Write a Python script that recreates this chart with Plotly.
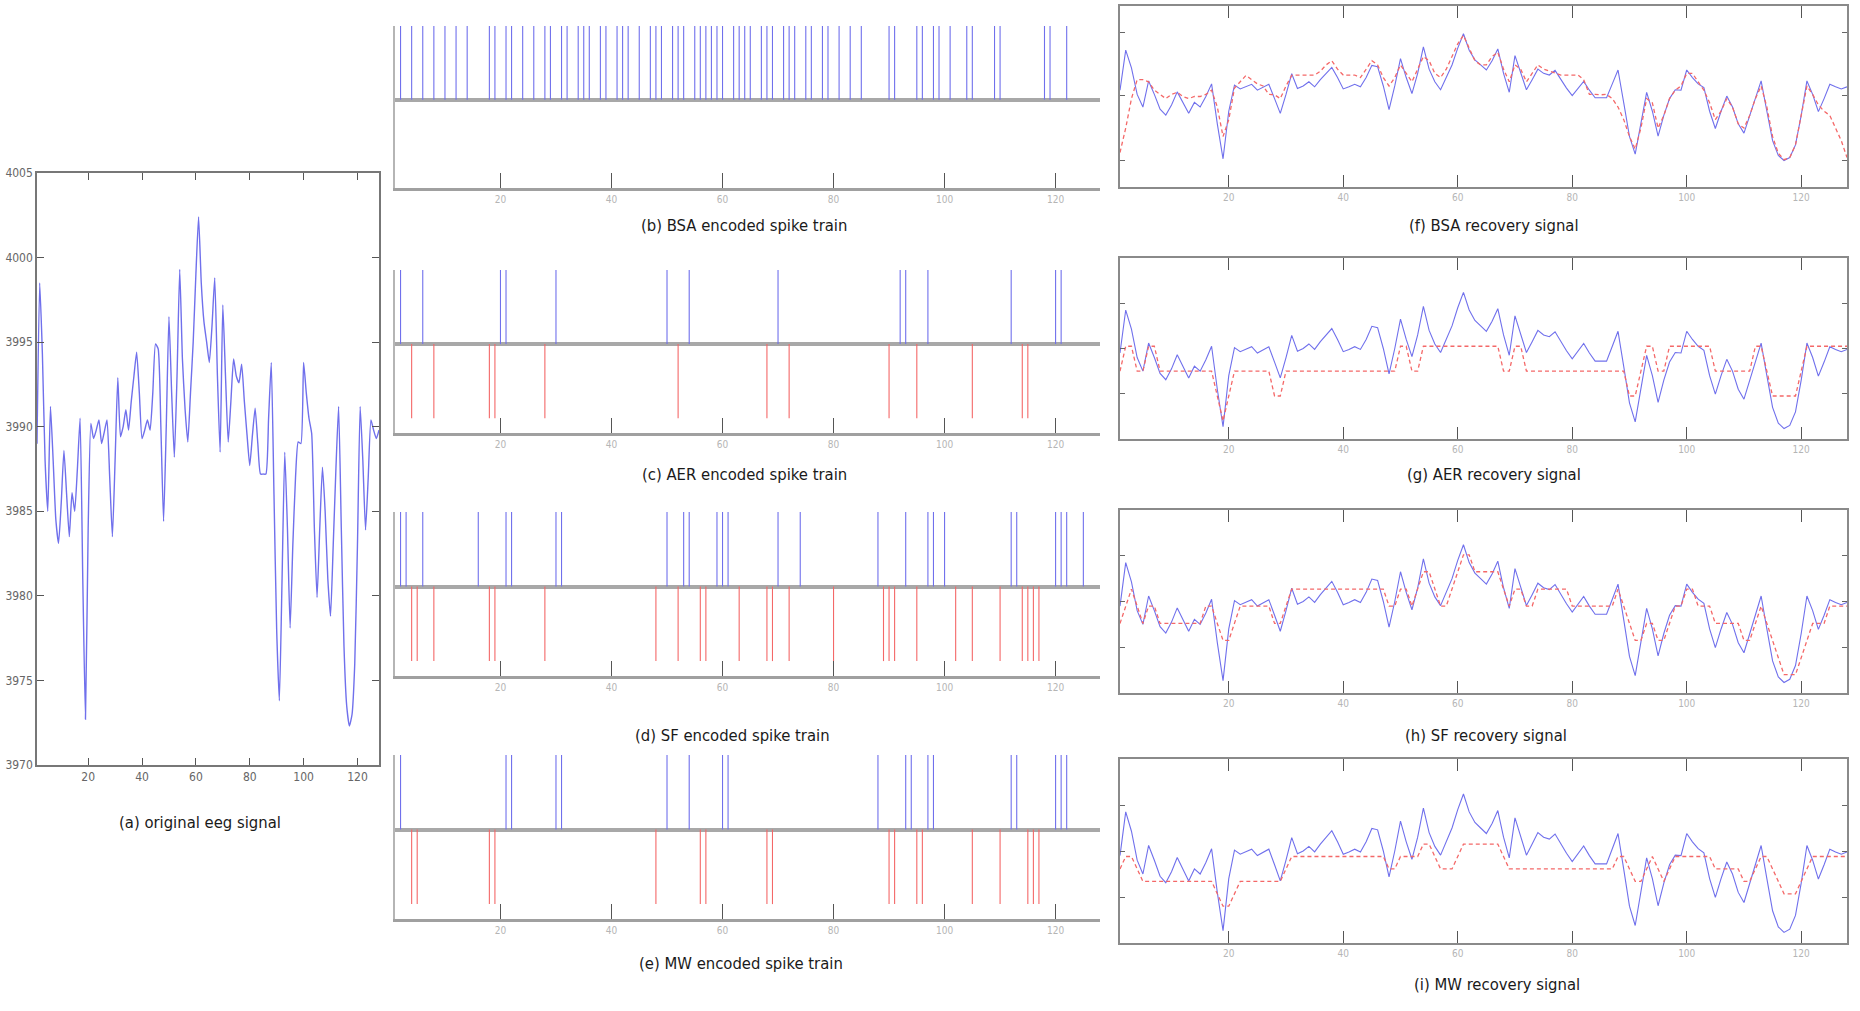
import plotly.graph_objects as go

W, H = 1860, 1011

# ---------------- data ----------------
samples = list(range(1, 129))

eeg = [
    3989.0, 3998.5, 3994.3, 3988.0, 3985.0, 3991.2, 3988.0, 3984.5, 3983.1, 3985.5,
    3988.6, 3986.0, 3983.5, 3986.1, 3985.0, 3987.5, 3990.5, 3981.0, 3972.7, 3984.0,
    3990.2, 3989.3, 3989.8, 3990.4, 3989.0, 3989.7, 3990.4, 3987.0, 3983.5, 3988.0,
    3992.9, 3989.4, 3990.0, 3991.0, 3989.8, 3991.5, 3993.0, 3994.4, 3992.0, 3989.3,
    3989.8, 3990.4, 3989.8, 3992.0, 3994.9, 3994.6, 3990.0, 3984.4, 3990.0, 3996.5,
    3992.0, 3988.2, 3993.0, 3999.3, 3994.0, 3991.0, 3989.1, 3992.0, 3995.0, 3999.0,
    4002.4, 3998.5, 3996.2, 3995.0, 3993.8, 3996.0, 3998.8, 3993.0, 3988.5, 3997.2,
    3993.0, 3989.1, 3991.5, 3994.0, 3993.0, 3992.6, 3993.7, 3991.5, 3989.5, 3987.7,
    3989.5, 3991.1, 3989.0, 3987.2, 3987.2, 3987.2, 3990.5, 3993.8, 3986.0, 3978.0,
    3973.8, 3981.0, 3988.5, 3984.0, 3978.1, 3983.0, 3987.0, 3989.1, 3989.0, 3993.8,
    3992.0, 3990.5, 3989.6, 3984.0, 3979.9, 3984.0, 3987.6, 3985.0, 3981.0, 3978.8,
    3983.0, 3987.5, 3991.2, 3984.0, 3977.0, 3973.5, 3972.3, 3973.0, 3976.0, 3983.0,
    3991.2, 3988.0, 3983.9, 3987.0, 3990.4, 3989.8, 3989.3, 3989.8,
]

bsa_spikes = [2, 4, 6, 8, 10, 12, 14, 18, 19, 21, 22, 24, 26, 28, 29, 31, 32, 34, 35, 36,
              38, 39, 41, 42, 43, 45, 47, 48, 49, 51, 52, 53, 55, 56, 57, 58, 59, 60, 62, 63,
              64, 65, 67, 68, 69, 71, 72, 73, 75, 76, 78, 79, 81, 83, 85, 90, 91, 95, 96, 98,
              99, 101, 104, 105, 109, 110, 118, 119, 122]

aer_pos = [2, 6, 20, 21, 30, 50, 54, 70, 92, 93, 97, 112, 120, 121]
aer_neg = [4, 8, 18, 19, 28, 52, 68, 72, 90, 95, 105, 114, 115]

sf_pos = [2, 3, 6, 16, 21, 22, 30, 31, 50, 53, 54, 59, 60, 61, 70, 74, 88, 93, 97, 98,
          100, 112, 113, 120, 121, 122, 125]
sf_neg = [4, 5, 8, 18, 19, 28, 48, 52, 56, 57, 63, 68, 69, 72, 80, 89, 90, 91, 95, 102,
          105, 110, 114, 115, 116, 117]

mw_pos = [2, 21, 22, 30, 31, 50, 54, 60, 61, 88, 93, 94, 97, 98, 112, 113, 120, 121, 122]
mw_neg = [4, 5, 18, 19, 48, 56, 57, 68, 69, 90, 91, 95, 96, 105, 110, 115, 116, 117]

bsa_rec = [
    3974.2, 3980.0, 3987.0, 3991.5, 3991.5, 3991.0, 3989.0, 3988.0, 3987.0, 3988.0,
    3988.5, 3987.5, 3987.0, 3987.5, 3987.5, 3988.0, 3989.0, 3985.0, 3978.0, 3982.0,
    3989.5, 3991.0, 3992.5, 3991.5, 3990.5, 3990.0, 3988.0, 3987.9, 3987.0, 3990.0,
    3992.5, 3992.6, 3992.6, 3992.6, 3992.6, 3993.5, 3995.0, 3996.0, 3994.0, 3992.6,
    3992.6, 3992.6, 3992.0, 3994.0, 3996.0, 3995.0, 3992.0, 3990.0, 3992.0, 3995.0,
    3993.0, 3991.0, 3994.0, 3997.0, 3996.0, 3993.0, 3992.0, 3994.0, 3997.0, 4000.0,
    4002.0, 3999.0, 3996.0, 3995.0, 3995.0, 3997.0, 3998.0, 3994.0, 3991.0, 3995.0,
    3994.0, 3991.0, 3993.0, 3995.0, 3994.0, 3993.5, 3993.0, 3992.6, 3992.6, 3992.6,
    3992.6, 3991.5, 3988.0, 3988.0, 3987.9, 3988.0, 3987.0, 3985.0, 3982.0, 3978.0,
    3975.0, 3980.0, 3987.0, 3986.0, 3980.0, 3983.0, 3987.0, 3989.0, 3990.0, 3993.0,
    3993.0, 3991.0, 3989.0, 3986.0, 3982.0, 3984.0, 3987.0, 3985.0, 3981.0, 3980.0,
    3983.0, 3987.0, 3990.0, 3985.0, 3978.0, 3974.0, 3972.5, 3973.0, 3976.0, 3983.0,
    3990.0, 3988.0, 3985.5, 3984.0, 3983.0, 3980.0, 3977.0, 3973.0,
]

aer_rec = [
    3985.0, 3990.5, 3990.5, 3985.0, 3985.0, 3990.5, 3990.5, 3985.0, 3985.0, 3985.0,
    3985.0, 3985.0, 3985.0, 3985.0, 3985.0, 3985.0, 3985.0, 3979.5, 3974.0, 3979.5,
    3985.0, 3985.0, 3985.0, 3985.0, 3985.0, 3985.0, 3985.0, 3979.5, 3979.5, 3985.0,
    3985.0, 3985.0, 3985.0, 3985.0, 3985.0, 3985.0, 3985.0, 3985.0, 3985.0, 3985.0,
    3985.0, 3985.0, 3985.0, 3985.0, 3985.0, 3985.0, 3985.0, 3985.0, 3985.0, 3990.5,
    3990.5, 3985.0, 3985.0, 3990.5, 3990.5, 3990.5, 3990.5, 3990.5, 3990.5, 3990.5,
    3990.5, 3990.5, 3990.5, 3990.5, 3990.5, 3990.5, 3990.5, 3985.0, 3985.0, 3990.5,
    3990.5, 3985.0, 3985.0, 3985.0, 3985.0, 3985.0, 3985.0, 3985.0, 3985.0, 3985.0,
    3985.0, 3985.0, 3985.0, 3985.0, 3985.0, 3985.0, 3985.0, 3985.0, 3985.0, 3979.5,
    3979.5, 3985.0, 3990.5, 3990.5, 3985.0, 3985.0, 3990.5, 3990.5, 3990.5, 3990.5,
    3990.5, 3990.5, 3990.5, 3990.5, 3985.0, 3985.0, 3985.0, 3985.0, 3985.0, 3985.0,
    3985.0, 3990.5, 3990.5, 3985.0, 3979.5, 3979.5, 3979.5, 3979.5, 3979.5, 3985.0,
    3990.5, 3990.5, 3990.5, 3990.5, 3990.5, 3990.5, 3990.5, 3990.5,
]

sf_rec = [
    3985.2, 3989.0, 3992.7, 3989.0, 3985.2, 3989.0, 3989.0, 3985.2, 3985.2, 3985.2,
    3985.2, 3985.2, 3985.2, 3985.2, 3985.2, 3989.0, 3989.0, 3985.2, 3981.5, 3981.5,
    3985.2, 3989.0, 3989.0, 3989.0, 3989.0, 3989.0, 3989.0, 3985.2, 3985.2, 3989.0,
    3992.7, 3992.7, 3992.7, 3992.7, 3992.7, 3992.7, 3992.7, 3992.7, 3992.7, 3992.7,
    3992.7, 3992.7, 3992.7, 3992.7, 3992.7, 3992.7, 3992.7, 3989.0, 3989.0, 3992.7,
    3992.7, 3989.0, 3992.7, 3996.5, 3996.5, 3992.7, 3989.0, 3989.0, 3992.7, 3996.5,
    4000.2, 4000.2, 3996.5, 3996.5, 3996.5, 3996.5, 3996.5, 3992.7, 3989.0, 3992.7,
    3992.7, 3989.0, 3989.0, 3992.7, 3992.7, 3992.7, 3992.7, 3992.7, 3992.7, 3989.0,
    3989.0, 3989.0, 3989.0, 3989.0, 3989.0, 3989.0, 3989.0, 3992.7, 3989.0, 3985.2,
    3981.5, 3981.5, 3985.2, 3985.2, 3981.5, 3981.5, 3985.2, 3989.0, 3989.0, 3992.7,
    3992.7, 3989.0, 3989.0, 3989.0, 3985.2, 3985.2, 3985.2, 3985.2, 3985.2, 3981.5,
    3981.5, 3985.2, 3989.0, 3985.2, 3981.5, 3977.7, 3974.0, 3974.0, 3974.0, 3977.7,
    3981.5, 3985.2, 3985.2, 3985.2, 3989.0, 3989.0, 3989.0, 3989.0,
]

mw_rec = [
    3986.1, 3988.8, 3988.8, 3986.1, 3983.4, 3983.4, 3983.4, 3983.4, 3983.4, 3983.4,
    3983.4, 3983.4, 3983.4, 3983.4, 3983.4, 3983.4, 3983.4, 3980.7, 3978.0, 3978.0,
    3980.7, 3983.4, 3983.4, 3983.4, 3983.4, 3983.4, 3983.4, 3983.4, 3983.4, 3986.1,
    3988.8, 3988.8, 3988.8, 3988.8, 3988.8, 3988.8, 3988.8, 3988.8, 3988.8, 3988.8,
    3988.8, 3988.8, 3988.8, 3988.8, 3988.8, 3988.8, 3988.8, 3986.1, 3986.1, 3988.8,
    3988.8, 3988.8, 3988.8, 3991.5, 3991.5, 3988.8, 3986.1, 3986.1, 3986.1, 3988.8,
    3991.5, 3991.5, 3991.5, 3991.5, 3991.5, 3991.5, 3991.5, 3988.8, 3986.1, 3986.1,
    3986.1, 3986.1, 3986.1, 3986.1, 3986.1, 3986.1, 3986.1, 3986.1, 3986.1, 3986.1,
    3986.1, 3986.1, 3986.1, 3986.1, 3986.1, 3986.1, 3986.1, 3988.8, 3988.8, 3986.1,
    3983.4, 3983.4, 3986.1, 3988.8, 3986.1, 3983.4, 3986.1, 3988.8, 3988.8, 3988.8,
    3988.8, 3988.8, 3988.8, 3988.8, 3986.1, 3986.1, 3986.1, 3986.1, 3986.1, 3983.4,
    3983.4, 3986.1, 3988.8, 3988.8, 3986.1, 3983.4, 3980.7, 3980.7, 3980.7, 3983.4,
    3986.1, 3988.8, 3988.8, 3988.8, 3988.8, 3988.8, 3988.8, 3988.8,
]

x_ticks = [20, 40, 60, 80, 100, 120]
eeg_y_ticks = [3970, 3975, 3980, 3985, 3990, 3995, 4000, 4005]

titles = {
    "a": "(a) original eeg signal",
    "b": "(b) BSA encoded spike train",
    "c": "(c) AER encoded spike train",
    "d": "(d) SF encoded spike train",
    "e": "(e) MW encoded spike train",
    "f": "(f) BSA recovery signal",
    "g": "(g) AER recovery signal",
    "h": "(h) SF recovery signal",
    "i": "(i) MW recovery signal",
}

# ---------------- style ----------------
BLUE = "rgb(112,112,236)"
RED = "rgb(244,104,104)"
FONT = "DejaVu Sans Condensed, Liberation Sans Narrow, sans-serif"


def dx(l, r):
    return [l / W, r / W]


def py_(p):
    # pixel row -> paper fraction
    return min(1.0, max(0.0, 1 - p / H))


def dy(t, b):
    return [py_(b), py_(t)]


fig = go.Figure()
lay = {}

# ---- panel a ----
fig.add_trace(go.Scatter(x=samples, y=eeg, mode="lines",
                         line=dict(color=BLUE, width=1.4, shape="spline", smoothing=0.5),
                         xaxis="x", yaxis="y", showlegend=False, hoverinfo="skip"))
lay["xaxis"] = dict(domain=dx(37, 379), range=[1, 128], tickvals=x_ticks, ticks="inside",
                    ticklen=7, tickcolor="#555", mirror="allticks", showline=True,
                    linecolor="#777", linewidth=1.5, showgrid=False, zeroline=False,
                    tickfont=dict(family=FONT, size=12, color="#666"), anchor="y")
lay["yaxis"] = dict(domain=dy(173, 765), range=[3970, 4005], tickvals=eeg_y_ticks,
                    ticks="inside", ticklen=7, tickcolor="#555", mirror="allticks",
                    showline=True, linecolor="#777", linewidth=1.5, showgrid=False,
                    zeroline=False, tickfont=dict(family=FONT, size=12, color="#666"),
                    anchor="x")


def spike_xy(idx, sign):
    xs, ys = [], []
    for s in idx:
        xs += [s, s, None]
        ys += [0, sign, None]
    return xs, ys


spike_panels = [
    (2, (26, 188), bsa_spikes, []),
    (3, (270, 433), aer_pos, aer_neg),
    (4, (512, 676), sf_pos, sf_neg),
    (5, (755, 919), mw_pos, mw_neg),
]
for n, (t, b), pos, neg in spike_panels:
    xa, ya = f"x{n}", f"y{n}"
    for idx, sign, col in ((pos, 1, BLUE), (neg, -1, RED)):
        if idx:
            xs, ys = spike_xy(idx, sign)
            fig.add_trace(go.Scatter(x=xs, y=ys, mode="lines", line=dict(color=col, width=1.1),
                                     xaxis=xa, yaxis=ya, showlegend=False, hoverinfo="skip"))
    lay[f"xaxis{n}"] = dict(domain=dx(395, 1100), range=[1, 128], tickvals=x_ticks,
                            ticks="inside", ticklen=15, tickcolor="#555", tickwidth=1,
                            showline=True, linecolor="#a0a0a0", linewidth=2.5, mirror=False,
                            showgrid=False, zeroline=False,
                            tickfont=dict(family=FONT, size=10, color="#b5b5b5"), anchor=ya)
    lay[f"yaxis{n}"] = dict(domain=dy(t, b), range=[-1.2, 1.0], showticklabels=False,
                            ticks="", showline=True, linecolor="#b5b5b5", linewidth=1.5,
                            showgrid=False, zeroline=True, zerolinecolor="#a8a8a8",
                            zerolinewidth=3.5, anchor=xa)

rec_panels = [
    (6, (6, 187), bsa_rec, [3966, 4009], [3972.2, 3987.8, 4002.7]),
    (7, (258, 439), aer_rec, [3970, 4010], [3980, 3990, 4000]),
    (8, (510, 693), sf_rec, [3970, 4010], [3980, 3990, 4000]),
    (9, (759, 943), mw_rec, [3970, 4010], [3980, 3990, 4000]),
]
for n, (t, b), rec, yr, yt in rec_panels:
    xa, ya = f"x{n}", f"y{n}"
    fig.add_trace(go.Scatter(x=samples, y=eeg, mode="lines", line=dict(color=BLUE, width=1.1),
                             xaxis=xa, yaxis=ya, showlegend=False, hoverinfo="skip"))
    fig.add_trace(go.Scatter(x=samples, y=rec, mode="lines",
                             line=dict(color=RED, width=1.3, dash="4px,3px"),
                             xaxis=xa, yaxis=ya, showlegend=False, hoverinfo="skip"))
    lay[f"xaxis{n}"] = dict(domain=dx(1120, 1847), range=[1, 128], tickvals=x_ticks,
                            ticks="inside", ticklen=12, tickcolor="#555", mirror="allticks",
                            showline=True, linecolor="#8a8a8a", linewidth=1.5, showgrid=False,
                            zeroline=False, tickfont=dict(family=FONT, size=10, color="#b5b5b5"),
                            anchor=ya)
    lay[f"yaxis{n}"] = dict(domain=dy(t, b), range=yr, tickvals=yt, ticks="inside", ticklen=5,
                            tickcolor="#666", mirror="allticks", showline=True,
                            linecolor="#8a8a8a", linewidth=1.5, showgrid=False, zeroline=False,
                            showticklabels=False, anchor=xa)

title_pos = {
    "a": (200, 822), "b": (744, 225), "c": (744, 474), "d": (732, 735), "e": (741, 963),
    "f": (1494, 225), "g": (1494, 474), "h": (1486, 735), "i": (1497, 984),
}
annotations = []
for k, (px, pyy) in title_pos.items():
    annotations.append(dict(text=titles[k], x=px / W, y=py_(pyy), xref="paper", yref="paper",
                            xanchor="center", yanchor="middle", showarrow=False,
                            font=dict(family=FONT, size=16.5, color="#1a1a1a")))

fig.update_layout(width=W, height=H, margin=dict(l=0, r=0, t=0, b=0, pad=0, autoexpand=False),
                  paper_bgcolor="white", plot_bgcolor="white", annotations=annotations,
                  showlegend=False, **lay)

fig.write_html("out.html", config={"displayModeBar": False},
               post_script="document.body.style.margin='0px';document.body.style.overflow='hidden';")
